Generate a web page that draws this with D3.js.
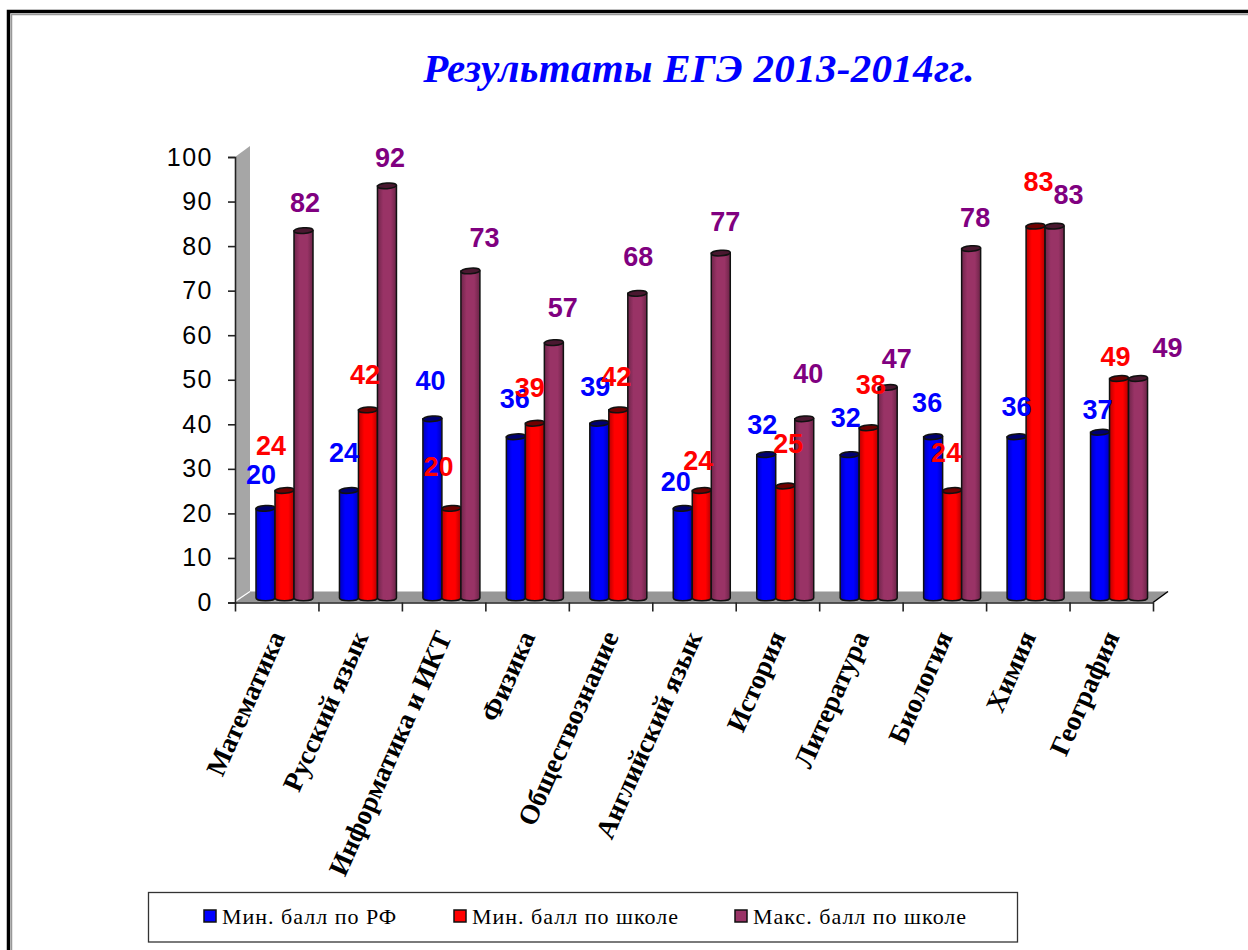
<!DOCTYPE html>
<html>
<head>
<meta charset="utf-8">
<style>
    html, body { margin: 0; padding: 0; background: #fff; }
    svg { display: block; }
</style>
<script src="https://cdn.jsdelivr.net/npm/d3@7"></script>
</head>
<body>
<div id="chart"></div>
<script>
var categories = ["Математика", "Русский язык", "Информатика и ИКТ", "Физика", "Обществознание",
    "Английский язык", "История", "Литература", "Биология", "Химия", "География"];
var seriesNames = ["Мин. балл по РФ", "Мин. балл по школе", "Макс. балл по школе"];
var minRF = [20, 24, 40, 36, 39, 20, 32, 32, 36, 36, 37];
var minSchool = [24, 42, 20, 39, 42, 24, 25, 38, 24, 83, 49];
var maxSchool = [82, 92, 73, 57, 68, 77, 40, 47, 78, 83, 49];

// label nudges, the labels in the picture were dragged around by hand
var nudgeX = [
    [-4.5, -5, -2, -1, -4, -7, -4, -4, -6, 0, -2.5],
    [-13.5, -3, -13, -5, -2, -3.5, 3, 2, -6, 3, -3.5],
    [1.5, 3, 14, 9, 1, 4.5, 4, 9, 4, 14, 29.5]
];
var nudgeY = [
    [-34, -38, -38, -38, -37, -27, -30, -37, -34, -30, -23],
    [-45, -35, -42, -36, -33, -30, -42, -43, -38, -45, -22],
    [-28, -28, -33, -35, -37, -31, -45, -29, -31, -32, -31]
];

function init() {
    var w = 1248;
    var h = 950;

    var barColors = ["#0000ff", "#ff0000", "#993366"];
    var darkColors = ["#000070", "#700000", "#4a1830"];
    var labelColors = ["#0000ff", "#ff0000", "#800080"];
    var series = [minRF, minSchool, maxSchool];

    var depthX = 15;
    var depthY = -11;

    var y = d3.scaleLinear().domain([0, 100]).range([602.5, 157]);
    var yBar = d3.scaleLinear().domain([0, 100]).range([598, 150]);
    var x = d3.scaleLinear().domain([0, categories.length]).range([235, 1153]);
    var band = d3.scaleBand().domain(categories).range([235, 1153]);
    var inner = d3.scaleBand().domain([0, 1, 2]).range([0, 57]);
    var groupShift = 21; // groups sit at the front of the 3d floor

    var svg = d3.select("#chart")
        .append("svg")
        .attr("width", w)
        .attr("height", h);

    var defs = svg.append("defs");
    barColors.forEach(function (c, i) {
        var grad = defs.append("linearGradient").attr("id", "cyl" + i);
        grad.append("stop").attr("offset", "0%").attr("stop-color", d3.color(c).darker(0.9));
        grad.append("stop").attr("offset", "30%").attr("stop-color", c);
        grad.append("stop").attr("offset", "70%").attr("stop-color", c);
        grad.append("stop").attr("offset", "100%").attr("stop-color", d3.color(c).darker(1));
    });

    // page frame
    svg.append("path")
        .attr("d", "M8.5," + h + "V11.5H" + w)
        .attr("fill", "none").attr("stroke", "#000").attr("stroke-width", 3.5);
    svg.append("path")
        .attr("d", "M11.5," + h + "V14.5H" + w)
        .attr("fill", "none").attr("stroke", "#999").attr("stroke-width", 1.5);

    // title
    svg.append("text")
        .attr("x", 699)
        .attr("y", 82)
        .attr("text-anchor", "middle")
        .attr("font-family", "'Liberation Serif'")
        .attr("font-size", 41)
        .attr("font-weight", "bold")
        .attr("font-style", "italic")
        .attr("letter-spacing", 0.3)
        .attr("fill", "#0000ff")
        .text("Результаты ЕГЭ 2013-2014гг.");

    // side wall and floor
    var x0 = x(0), x1 = x(categories.length), y0 = y(0), y1 = y(100);
    svg.append("polygon")
        .attr("points", [[x0, y1], [x0 + depthX, y1 + depthY], [x0 + depthX, y0 + depthY], [x0, y0]].join(" "))
        .attr("fill", "#a6a6a6");
    svg.append("polygon")
        .attr("points", [[x0, y0], [x0 + depthX, y0 + depthY], [x1 + depthX, y0 + depthY], [x1, y0]].join(" "))
        .attr("fill", "#969696");
    svg.append("line")
        .attr("x1", x1).attr("y1", y0)
        .attr("x2", x1 + depthX).attr("y2", y0 + depthY)
        .attr("stroke", "#000").attr("stroke-width", 1.5);
    svg.append("line")
        .attr("x1", x0).attr("y1", y0 - 1)
        .attr("x2", x0 + depthX).attr("y2", y0 + depthY)
        .attr("stroke", "#fff").attr("stroke-width", 1.2);

    // axes
    var yAxis = svg.append("g")
        .attr("transform", "translate(" + x0 + ",0)")
        .call(d3.axisLeft(y).tickValues(d3.range(0, 101, 10)).tickSize(7).tickPadding(15));
    yAxis.selectAll("text")
        .attr("font-family", "'Liberation Sans'")
        .attr("font-size", 25)
        .attr("letter-spacing", 1.5)
        .attr("fill", "#000");
    yAxis.selectAll("line, path").attr("stroke", "#222").attr("stroke-width", 1.6);

    var xAxis = svg.append("g")
        .attr("transform", "translate(0," + y0 + ")")
        .call(d3.axisBottom(x).tickValues(d3.range(categories.length + 1)).tickSize(9).tickSizeOuter(0).tickFormat(""));
    xAxis.selectAll("line, path").attr("stroke", "#222").attr("stroke-width", 1.6);

    // bars
    function groupX(i) {
        return band(categories[i]) + groupShift;
    }

    var groups = svg.selectAll("g.group")
        .data(categories)
        .enter()
        .append("g")
        .attr("class", "group")
        .attr("transform", function (d, i) {
            return "translate(" + groupX(i) + ",0)";
        });

    series.forEach(function (values, s) {
        var bw = inner.bandwidth();
        var rx = bw / 2;
        var ry = 2.8;

        var bars = groups.append("g")
            .datum(function (d, i) { return values[i]; });

        bars.append("path")
            .attr("d", function (v) {
                var l = inner(s), r = l + bw;
                return "M" + l + "," + yBar(v) + "V" + yBar(0) +
                    "A" + rx + "," + ry + " 0 0 0 " + r + "," + yBar(0) +
                    "V" + yBar(v) + "Z";
            })
            .attr("fill", "url(#cyl" + s + ")")
            .attr("stroke", "#111")
            .attr("stroke-width", 1.5);

        bars.append("ellipse")
            .attr("cx", inner(s) + rx)
            .attr("cy", function (v) { return yBar(v); })
            .attr("rx", rx)
            .attr("ry", ry)
            .attr("transform", function (v) {
                return "rotate(-4 " + (inner(s) + rx) + " " + yBar(v) + ")";
            })
            .attr("fill", darkColors[s])
            .attr("stroke", "#111")
            .attr("stroke-width", 1.5);
    });

    // value labels
    series.forEach(function (values, s) {
        svg.append("g").selectAll("text")
            .data(values)
            .enter()
            .append("text")
            .attr("x", function (d, i) {
                return groupX(i) + inner(s) + inner.bandwidth() / 2 + nudgeX[s][i];
            })
            .attr("y", function (d, i) {
                return yBar(d) + nudgeY[s][i];
            })
            .attr("dy", "0.35em")
            .attr("text-anchor", "middle")
            .attr("font-family", "'Liberation Sans'")
            .attr("font-size", 27)
            .attr("font-weight", "bold")
            .attr("fill", labelColors[s])
            .text(function (d) { return d; });
    });

    // category labels
    svg.append("g").selectAll("text")
        .data(categories)
        .enter()
        .append("text")
        .attr("transform", function (d) {
            return "translate(" + (band(d) + band.bandwidth() / 2) + "," + (y0 + 30) + ") rotate(-66)";
        })
        .attr("text-anchor", "end")
        .attr("dy", "0.35em")
        .attr("font-family", "'Liberation Serif'")
        .attr("font-size", 27.5)
        .attr("font-weight", "bold")
        .attr("fill", "#000")
        .text(function (d) { return d; });

    // legend
    svg.append("rect")
        .attr("x", 148.5).attr("y", 892.5)
        .attr("width", 869).attr("height", 49.5)
        .attr("fill", "#fff").attr("stroke", "#333").attr("stroke-width", 1.3);

    var legendX = [204, 454, 735];
    var legend = svg.selectAll("g.legend")
        .data(seriesNames)
        .enter()
        .append("g")
        .attr("class", "legend")
        .attr("transform", function (d, i) {
            return "translate(" + legendX[i] + ",910)";
        });
    legend.append("rect")
        .attr("width", 12).attr("height", 12)
        .attr("fill", function (d, i) { return barColors[i]; })
        .attr("stroke", "#111").attr("stroke-width", 1.5);
    legend.append("text")
        .attr("x", 18)
        .attr("y", 14)
        .attr("font-family", "'Liberation Serif'")
        .attr("font-size", 22)
        .attr("letter-spacing", 1)
        .attr("fill", "#000")
        .text(function (d) { return d; });
}

init();
</script>
</body>
</html>
